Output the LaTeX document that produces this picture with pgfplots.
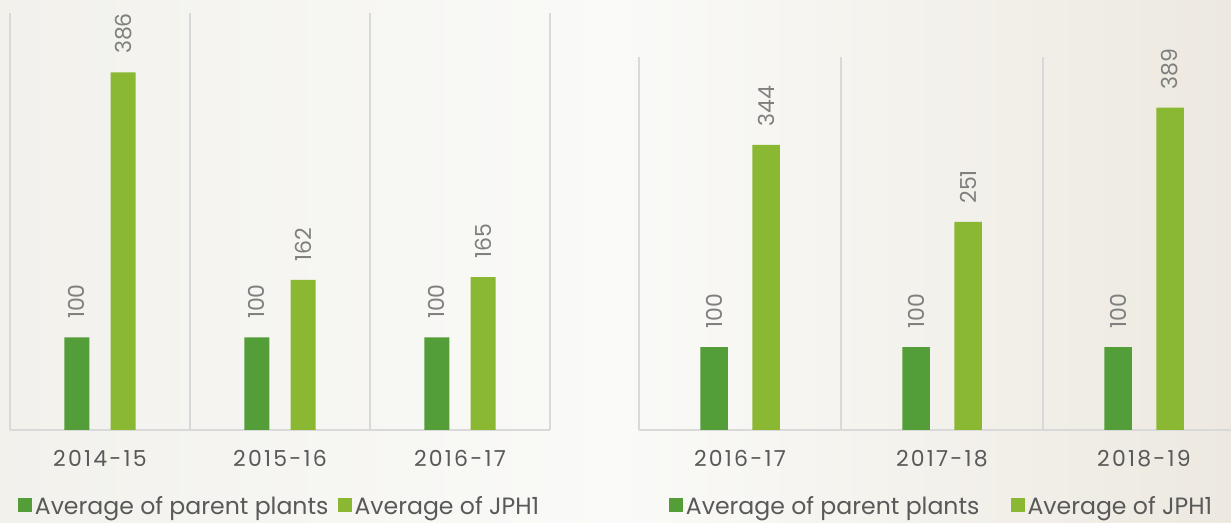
\documentclass[border=0pt]{standalone}
\usepackage{fontspec}
\setmainfont{Poppins}
\usepackage{pgfplots}
\pgfplotsset{compat=1.18}
\definecolor{dgreen}{HTML}{549E39}
\definecolor{lgreen}{HTML}{8AB833}
\definecolor{txt}{HTML}{595959}
\definecolor{vtxt}{HTML}{7F7F7F}
\definecolor{gridc}{HTML}{D9D9D9}
\definecolor{bgL}{HTML}{F2F1EC}
\definecolor{bgM}{HTML}{FAFAF8}
\definecolor{bgR}{HTML}{EDE9E0}

\pgfplotsset{
 panel/.style={
  scale only axis, ybar, ymin=0, ymax=450, xmin=-0.5, xmax=2.5,
  axis y line=none, axis x line*=bottom,
  axis line style={gridc, line width=0.75pt, -},
  xtick={0,1,2}, major tick length=0pt,
  extra x ticks={-0.5,0.5,1.5,2.5}, extra x tick labels={},
  extra x tick style={grid=major, major grid style={gridc, line width=0.75pt}, major tick length=0pt},
  xticklabel style={font=\fontsize{11}{13}\selectfont\addfontfeature{LetterSpace=10}, text=txt, yshift=-6.5pt},
  nodes near coords, /pgf/number format/assume math mode=true,
  every node near coord/.append style={rotate=90, anchor=west, font=\fontsize{11}{13}\selectfont, text=vtxt, inner xsep=9pt, inner ysep=0pt},
  legend image code/.code={\fill[#1, draw=none] (0pt,-2.3pt) rectangle (7pt,4.7pt);},
  legend style={at={(0.5,0)}, anchor=center, yshift=-38.5pt, draw=none, fill=none, legend columns=2,
    font=\fontsize{11.8}{14}\selectfont, text=txt, nodes={inner xsep=1.5pt}},
 }
}

\begin{document}
\begin{tikzpicture}
\useasboundingbox (0,0) rectangle (615.5pt,261.5pt);
\clip (0,0) rectangle (615.5pt,261.5pt);
\shade[left color=bgL, right color=bgR, middle color=bgM] (0,0) rectangle (615.5pt,261.5pt);

\begin{axis}[panel, at={(5pt,46.5pt)}, anchor=south west, width=270pt, height=208.5pt,
  xticklabels={2014-15,2015-16,2016-17},
  legend style={/tikz/every even column/.append style={column sep=3pt}}]
\addplot[fill=dgreen, draw=none, bar width=12.5pt, bar shift=-11.6pt] coordinates {(0,100) (1,100) (2,100)};
\addplot[fill=lgreen, draw=none, bar width=12.5pt, bar shift=11.6pt] coordinates {(0,386) (1,162) (2,165)};
\legend{Average of parent plants, Average of JPH1}
\end{axis}

\begin{axis}[panel, at={(319.5pt,46.5pt)}, anchor=south west, width=303pt, height=186.5pt,
  xticklabels={2016-17,2017-18,2018-19},
  legend style={/tikz/every even column/.append style={column sep=14pt}}]
\addplot[fill=dgreen, draw=none, bar width=13.75pt, bar shift=-13pt] coordinates {(0,100) (1,100) (2,100)};
\addplot[fill=lgreen, draw=none, bar width=13.75pt, bar shift=13pt] coordinates {(0,344) (1,251) (2,389)};
\legend{Average of parent plants, Average of JPH1}
\end{axis}
\end{tikzpicture}
\end{document}
